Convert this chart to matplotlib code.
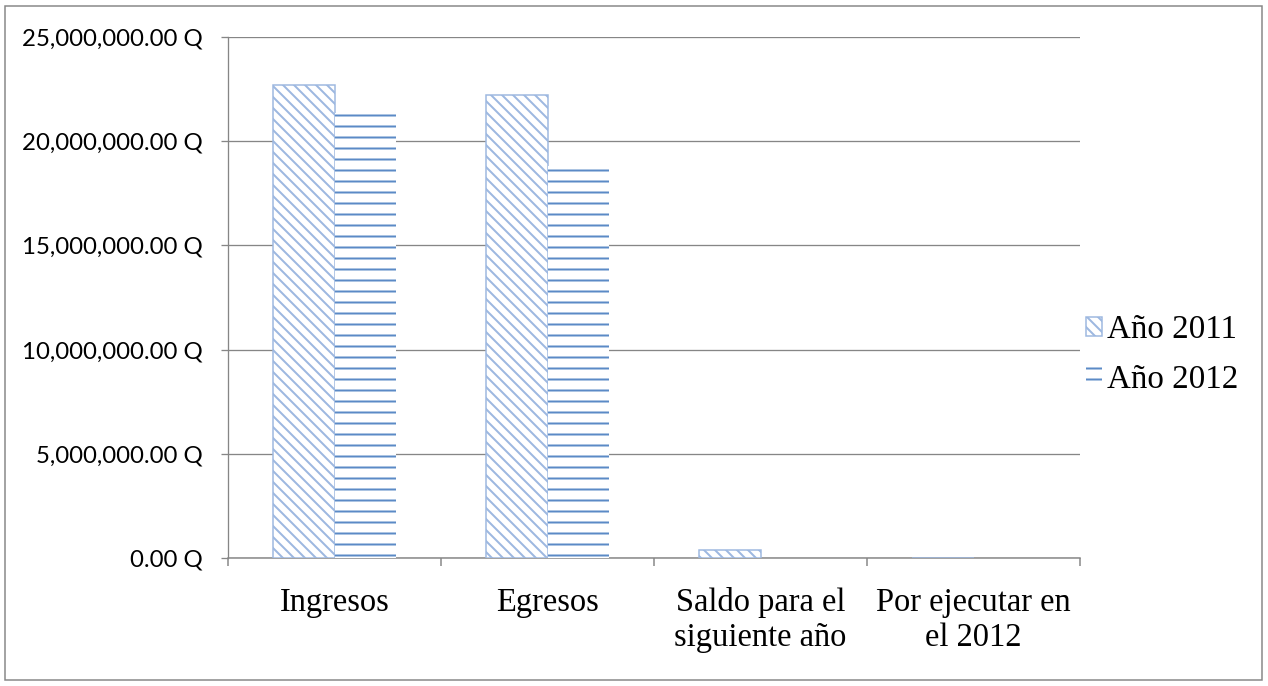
import matplotlib
matplotlib.use("Agg")
import matplotlib.pyplot as plt
import numpy as np
from matplotlib.patches import Rectangle
from matplotlib.ticker import FuncFormatter, MultipleLocator

# 66 dpi so the default hatch density lands near the reference spacing (~11 px)
DPI = 66


def px(v):
    """Pixel size -> points at this dpi."""
    return v * 72 / DPI


categories = ["Ingresos", "Egresos", "Saldo para el\nsiguiente año", "Por ejecutar en\nel 2012"]
anio_2011 = [22_700_000, 22_200_000, 400_000, 0]
anio_2012 = [21_350_000, 18_800_000, 0, 0]
series_labels = ["Año 2011", "Año 2012"]

plt.rcParams["hatch.linewidth"] = px(2.0)

fig = plt.figure(figsize=(1268 / DPI, 686 / DPI), dpi=DPI)
ax = fig.add_axes([228 / 1268, 1 - 558 / 686, (1080 - 228) / 1268, (558 - 37) / 686])

x = np.arange(len(categories))
w = 0.29
ax.bar(x - w / 2, anio_2011, w, facecolor="white", edgecolor="#9db8e0",
       hatch="\\\\", linewidth=px(1.5), label=series_labels[0], zorder=3)
ax.bar(x + w / 2, anio_2012, w, facecolor="white", edgecolor="#5b8ac6",
       hatch="-", linewidth=0, label=series_labels[1], zorder=3)

ax.set_xlim(-0.5, len(categories) - 0.5)
ax.set_ylim(0, 25_000_000)
ax.yaxis.set_major_locator(MultipleLocator(5_000_000))
ax.yaxis.set_major_formatter(FuncFormatter(lambda v, _: f"{v:,.2f} Q"))
ax.grid(axis="y", color="#868686", linewidth=px(1.3), zorder=0)

ax.set_xticks(x)
ax.set_xticklabels(categories, family="Liberation Serif", fontsize=px(32.5), linespacing=1.2)
ax.set_xticks(np.arange(len(categories) + 1) - 0.5, minor=True)
ax.tick_params(axis="x", which="major", length=0, pad=px(29))
ax.tick_params(axis="x", which="minor", length=px(8), width=px(1.5), color="#868686")
ax.tick_params(axis="y", length=px(7), width=px(1.3), color="#868686", pad=px(18),
               labelsize=px(24))
for lab in ax.get_yticklabels():
    lab.set_family("Lato")

for side in ("top", "right"):
    ax.spines[side].set_visible(False)
ax.spines["left"].set_color("#868686")
ax.spines["left"].set_linewidth(px(1.3))
ax.spines["bottom"].set_color("#868686")
ax.spines["bottom"].set_linewidth(px(1.5))

ax.legend(loc="center left", bbox_to_anchor=(0.972, 0.39), frameon=False,
          prop={"family": "Liberation Serif", "size": px(33)},
          handlelength=0.5, handleheight=0.5, handletextpad=0.15, labelspacing=0.6)

# outer chart border
fig.patches.append(Rectangle((5 / 1268, 6 / 686), 1257 / 1268, 674 / 686,
                             transform=fig.transFigure, fill=False,
                             edgecolor="#868686", linewidth=px(1.5)))

fig.savefig("out.png", dpi=DPI)
